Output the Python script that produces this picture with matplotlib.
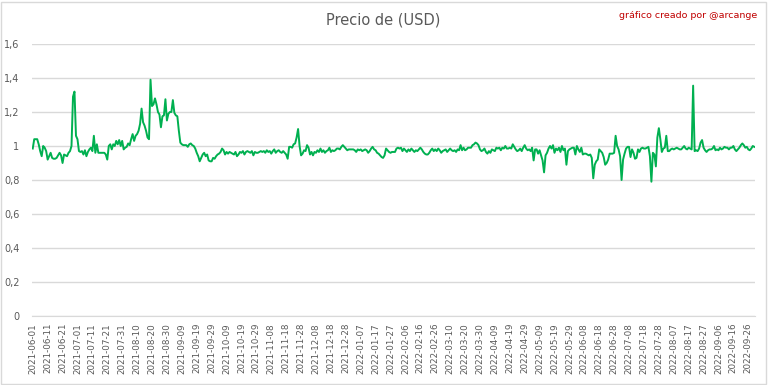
import matplotlib
matplotlib.use("Agg")
import matplotlib.pyplot as plt
import pandas as pd
from matplotlib.patches import Rectangle

# Dates on the category axis: daily, with two days missing in early March 2022
start_date = "2021-06-01"
end_date = "2022-09-30"
missing_dates = ["2022-03-01", "2022-03-02"]

# Price values, in order of the category axis
seg01 = [0.985, 1.04, 1.04, 1.04, 1.01, 0.97, 0.94, 1.00, 0.99, 0.97,
         0.92, 0.94, 0.96, 0.93, 0.925, 0.925, 0.93, 0.945, 0.96, 0.945,
         0.90, 0.95, 0.945, 0.94, 0.96, 0.97, 1.0, 1.29, 1.32, 1.06]
seg02 = [1.04, 0.97, 0.965, 0.97, 0.95, 0.975, 0.94, 0.965, 0.98, 0.99,
         0.97, 1.06, 0.96, 1.01, 0.96, 0.96, 0.96, 0.96, 0.96, 0.95,
         0.92, 1.00, 1.01, 0.98, 1.01, 1.0, 1.03, 1.01, 1.035, 1.0, 1.03]
seg03 = [0.98, 0.99, 0.995, 1.015, 1.005, 1.04, 1.07, 1.03, 1.06, 1.07,
         1.09, 1.13, 1.22, 1.14, 1.12, 1.09, 1.05, 1.04, 1.39, 1.235,
         1.245, 1.28, 1.245, 1.20, 1.185, 1.11, 1.175, 1.18, 1.275, 1.15, 1.19]
seg04 = [1.20, 1.20, 1.27, 1.195, 1.18, 1.175, 1.09, 1.02, 1.01, 1.005,
         1.005, 1.005, 0.995, 1.01, 1.015, 1.005, 1.0, 0.985, 0.96, 0.94,
         0.91, 0.93, 0.95, 0.96, 0.94, 0.95, 0.915, 0.91, 0.91, 0.93]
seg05 = [0.925, 0.94, 0.95, 0.955, 0.965, 0.985, 0.975, 0.95, 0.965, 0.955,
         0.965, 0.96, 0.955, 0.95, 0.965, 0.94, 0.95, 0.965, 0.96, 0.97,
         0.95, 0.965, 0.97, 0.965, 0.96, 0.97, 0.945, 0.965, 0.96, 0.96, 0.965]
seg06 = [0.97, 0.965, 0.97, 0.96, 0.975, 0.965, 0.97, 0.955, 0.97, 0.98,
         0.96, 0.97, 0.975, 0.965, 0.96, 0.97, 0.96, 0.95, 0.925, 0.995,
         0.995, 0.99, 1.01, 1.015, 1.05, 1.10, 1.0, 0.945, 0.955, 0.975]
seg07 = [0.97, 1.005, 0.99, 0.95, 0.965, 0.945, 0.965, 0.96, 0.975, 0.965,
         0.985, 0.965, 0.975, 0.96, 0.97, 0.975, 0.99, 0.965, 0.975, 0.97,
         0.975, 0.985, 0.985, 0.98, 0.995, 1.005, 0.995, 0.985, 0.975, 0.98, 0.98]
seg08 = [0.98, 0.98, 0.975, 0.965, 0.98, 0.975, 0.98, 0.97, 0.975, 0.98,
         0.975, 0.96, 0.97, 0.985, 0.995, 0.98, 0.975, 0.96, 0.955, 0.945,
         0.935, 0.93, 0.945, 0.985, 0.975, 0.965, 0.96, 0.965, 0.965, 0.965, 0.985]
seg09 = [0.99, 0.985, 0.99, 0.97, 0.985, 0.975, 0.965, 0.98, 0.97, 0.985,
         0.975, 0.965, 0.975, 0.97, 0.98, 0.99, 0.98, 0.965, 0.955, 0.95,
         0.95, 0.96, 0.975, 0.985, 0.97, 0.98, 0.97, 0.985]
seg10 = [0.975, 0.96, 0.97, 0.975, 0.98, 0.965, 0.975, 0.985, 0.975, 0.97,
         0.975, 0.965, 0.98, 0.975, 1.005, 0.975, 0.99, 0.975, 0.98, 0.99,
         0.99, 0.99, 1.005, 1.01, 1.02, 1.015, 1.005, 0.98, 0.97, 0.975, 0.985]
seg11 = [0.965, 0.955, 0.97, 0.96, 0.98, 0.975, 0.97, 0.99, 0.985, 0.99,
         0.975, 0.99, 0.985, 1.0, 0.985, 0.985, 0.99, 0.985, 1.01, 0.995,
         0.98, 0.97, 0.975, 0.985, 0.97, 0.99, 1.005, 0.985, 0.975, 0.98]
seg12 = [0.97, 0.99, 0.915, 0.98, 0.98, 0.955, 0.975, 0.945, 0.915, 0.845,
         0.945, 0.96, 0.985, 1.0, 0.985, 1.005, 0.96, 0.985, 0.975, 0.99,
         0.965, 1.0, 0.975, 0.985, 0.89, 0.97, 0.98, 0.985, 0.99, 0.99, 0.95]
seg13 = [1.0, 0.98, 0.965, 0.99, 0.95, 0.955, 0.955, 0.95, 0.945, 0.95,
         0.93, 0.81, 0.89, 0.91, 0.92, 0.98, 0.97, 0.96, 0.935, 0.89,
         0.9, 0.92, 0.955, 0.955, 0.955, 0.96, 1.06, 1.0, 0.98, 0.94]
seg14 = [0.80, 0.92, 0.955, 0.985, 0.995, 0.995, 0.935, 0.98, 0.96, 0.925,
         0.93, 0.98, 0.965, 0.985, 0.99, 0.985, 0.985, 0.99, 0.995, 0.94,
         0.79, 0.96, 0.95, 0.88, 1.05, 1.105, 1.04, 0.965, 0.985, 0.99, 1.06]
seg15 = [0.97, 0.97, 0.98, 0.985, 0.98, 0.985, 0.99, 0.985, 0.98, 0.98,
         0.99, 1.0, 0.985, 0.98, 0.99, 0.985, 0.98, 1.355, 0.97, 0.975,
         0.97, 0.985, 1.02, 1.035, 0.99, 0.975, 0.965, 0.975, 0.98, 0.98, 0.985]
seg16 = [1.0, 0.975, 0.98, 0.975, 0.99, 0.98, 0.985, 0.995, 0.99, 0.99,
         0.98, 0.99, 0.99, 1.0, 0.98, 0.97, 0.98, 0.99, 1.005, 1.015,
         1.005, 0.99, 0.995, 0.98, 0.975, 0.985, 1.0, 0.995]

y_ticks = [0, 0.2, 0.4, 0.6, 0.8, 1.0, 1.2, 1.4, 1.6]
y_labels = ["0", "0,2", "0,4", "0,6", "0,8", "1", "1,2", "1,4", "1,6"]
title = "Precio de (USD)"
credit = "gráfico creado por @arcange"

values = (seg01 + seg02 + seg03 + seg04 + seg05 + seg06 + seg07 + seg08 +
          seg09 + seg10 + seg11 + seg12 + seg13 + seg14 + seg15 + seg16)
all_days = pd.date_range(start_date, end_date, freq="D")
dates = [d for d in all_days if d.strftime("%Y-%m-%d") not in missing_dates]
categories = [d.strftime("%Y-%m-%d") for d in dates][:len(values)]
pos = list(range(len(values)))

plt.rcParams['font.family'] = ['DejaVu Sans']
fig = plt.figure(figsize=(7.68, 3.85), dpi=100)
fig.patch.set_facecolor("white")
ax = fig.add_axes([32/768, 1 - 316/385, (755-32)/768, (316-44)/385])

ax.plot(pos, values, color="#00b050", lw=1.4, solid_joinstyle="round")

ax.set_ylim(0, 1.6)
ax.set_yticks(y_ticks)
ax.set_yticklabels(y_labels)
ax.set_xlim(-0.5, len(values) - 0.5)
ax.set_xticks(pos[::10])
ax.set_xticklabels(categories[::10], rotation=90)

ax.grid(axis="y", color="#d9d9d9", lw=1)
ax.set_axisbelow(True)
for s in ["top", "right", "left"]:
    ax.spines[s].set_visible(False)
ax.spines["bottom"].set_color("#d9d9d9")
ax.tick_params(axis="both", length=0, colors="#595959")
ax.tick_params(axis="x", labelsize=6.3, pad=5)
ax.tick_params(axis="y", labelsize=7, pad=9)

fig.text(383/768, 1 - 20/385, title, ha="center", va="center",
         fontsize=10.5, color="#595959")
fig.text(757/768, 1 - 15/385, credit, ha="right", va="center",
         fontsize=6.8, color="#c00000")

fig.patches.append(Rectangle((1/768, 1/385), 765/768, 382/385, transform=fig.transFigure,
                             fill=False, edgecolor="#d9d9d9", lw=1))

fig.savefig("out.png", dpi=100)
